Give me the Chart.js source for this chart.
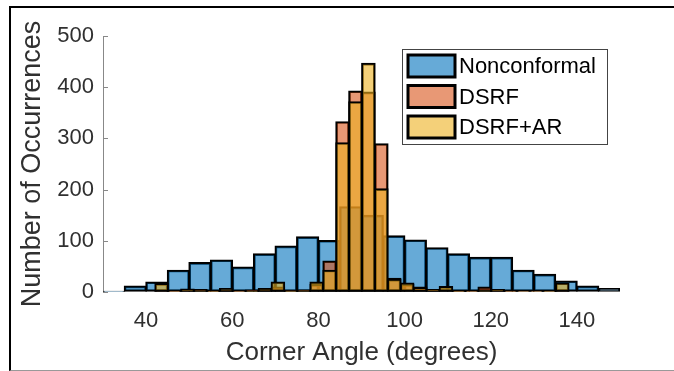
<!DOCTYPE html>
<html>
<head>
<meta charset="utf-8">
<script src="https://cdn.jsdelivr.net/npm/chart.js@4.4.0/dist/chart.umd.min.js"></script>
<style>
  html, body { margin: 0; padding: 0; background: #fff; }
  #wrap { position: relative; width: 674px; height: 371px; overflow: hidden; }
  #frame { position: absolute; left: 9px; top: 6px; right: -2px; bottom: 0; border-left: 2px solid #000; border-top: 2px solid #000; border-bottom: 1px solid #999; }
  #wrap canvas { position: absolute; left: 0; top: 0; }
</style>
</head>
<body>
<div id="wrap">
  <div id="frame"></div>
  <canvas id="myChart" width="674" height="371"></canvas>
</div>
<script>
// histogram bins: first edge, bin width, counts
const nonconfStart = 30;
const nonconfWidth = 5;
const nonconformal = [2, 12, 20, 43, 58, 63, 49, 75, 90, 108, 101, 167, 150, 110, 102, 87, 75, 68, 68, 43, 35, 22, 12, 7];

const dsrfStart = 42.1;
const dsrfWidth = 3;
const dsrf = [3, 2, 3, 5, 2, 4, 2, 4, 5, 10, 3, 4, 15, 61, 333, 393, 391, 290, 27, 15, 10, 5, 4, 2, 2, 10, 3, 2, 1, 1, 1, 3];
const dsrfAr = [17, 1, 6, 3, 2, 7, 1, 2, 7, 20, 2, 3, 20, 43, 292, 372, 447, 202, 25, 18, 8, 4, 11, 2, 1, 3, 5, 1, 1, 1, 2, 18];

const xTicks = [40, 60, 80, 100, 120, 140];
const yTicks = [0, 100, 200, 300, 400, 500];

const toBins = (start, width, counts) =>
  counts.map((c, i) => ({ x: start + width * (i + 0.5), y: c }));

// bar width in pixels = bin width through the x scale (+1 so neighbours share an edge)
const binPx = (width) => (ctx) => {
  const x = ctx.chart.scales && ctx.chart.scales.x;
  if (!x || !x.width) return 10;
  return x.getPixelForValue(x.min + width) - x.getPixelForValue(x.min) + 1;
};

const font = '"Liberation Sans", Arial, Helvetica, sans-serif';
const textColor = '#303030';

const yTickMarks = {
  id: 'yTickMarks',
  afterDraw(chart) {
    const { ctx, chartArea, scales } = chart;
    ctx.save();
    ctx.strokeStyle = '#888';
    ctx.lineWidth = 1;
    yTicks.forEach(v => {
      const y = Math.round(scales.y.getPixelForValue(v)) + 0.5;
      ctx.beginPath();
      ctx.moveTo(chartArea.left, y);
      ctx.lineTo(chartArea.left + 5, y);
      ctx.stroke();
    });
    ctx.restore();
  }
};

const boxLegend = {
  id: 'boxLegend',
  afterDraw(chart) {
    const { ctx } = chart;
    const left = 402, top = 49, w = 205, h = 95;
    ctx.save();
    ctx.fillStyle = '#fff';
    ctx.fillRect(left, top, w, h);
    ctx.strokeStyle = '#444';
    ctx.lineWidth = 1;
    ctx.strokeRect(left + 0.5, top + 0.5, w, h);
    ctx.font = '22px ' + font;
    ctx.textBaseline = 'middle';
    chart.data.datasets.forEach((ds, i) => {
      const cy = top + 17 + i * 30.5;
      ctx.fillStyle = ds.backgroundColor;
      ctx.fillRect(left + 6, cy - 11, 47, 22);
      ctx.strokeStyle = '#000';
      ctx.lineWidth = 3;
      ctx.strokeRect(left + 6, cy - 11, 47, 22);
      ctx.fillStyle = '#000';
      ctx.fillText(ds.label, left + 57, cy + 1);
    });
    ctx.restore();
  }
};

const common = {
  borderColor: '#000',
  borderWidth: 2,
  borderSkipped: false,
  grouped: false,
  barPercentage: 1,
  categoryPercentage: 1
};

const chart = new Chart(document.getElementById('myChart'), {
  type: 'bar',
  data: {
    datasets: [
      Object.assign({
        label: 'Nonconformal',
        data: toBins(nonconfStart, nonconfWidth, nonconformal),
        backgroundColor: 'rgba(0, 114, 189, 0.6)',
        barThickness: binPx(nonconfWidth),
        order: 3
      }, common),
      Object.assign({
        label: 'DSRF',
        data: toBins(dsrfStart, dsrfWidth, dsrf),
        backgroundColor: 'rgba(217, 83, 25, 0.6)',
        barThickness: binPx(dsrfWidth),
        order: 2
      }, common),
      Object.assign({
        label: 'DSRF+AR',
        data: toBins(dsrfStart, dsrfWidth, dsrfAr),
        backgroundColor: 'rgba(237, 177, 32, 0.6)',
        barThickness: binPx(dsrfWidth),
        order: 1
      }, common)
    ]
  },
  options: {
    responsive: false,
    animation: false,
    layout: { padding: { left: 10, right: 54, top: 36, bottom: 0 } },
    plugins: { legend: { display: false }, tooltip: { enabled: false } },
    scales: {
      x: {
        type: 'linear',
        min: 30,
        max: 150,
        offset: false,
        grid: { display: false, drawTicks: false },
        border: { display: false },
        afterBuildTicks: (axis) => { axis.ticks = xTicks.map(v => ({ value: v })); },
        afterFit: (axis) => { axis.height = 79; },
        ticks: { padding: 16, color: textColor, font: { family: font, size: 22 }, maxRotation: 0 },
        title: { display: true, text: 'Corner Angle (degrees)', color: textColor, font: { family: font, size: 26 }, padding: { top: 0, bottom: 3 } }
      },
      y: {
        min: 0,
        max: 500,
        grid: { drawOnChartArea: false, drawTicks: false },
        border: { display: true, color: '#888', width: 1 },
        afterBuildTicks: (axis) => { axis.ticks = yTicks.map(v => ({ value: v })); },
        afterFit: (axis) => { axis.width = 93; },
        ticks: { padding: 9, color: textColor, font: { family: font, size: 22 } },
        title: { display: true, text: 'Number of Occurrences', color: textColor, font: { family: font, size: 27 }, padding: { top: 6, bottom: 0 } }
      }
    }
  },
  plugins: [yTickMarks, boxLegend]
});
// second pass so bar widths are taken from the laid-out x scale
chart.update('none');
</script>
</body>
</html>
